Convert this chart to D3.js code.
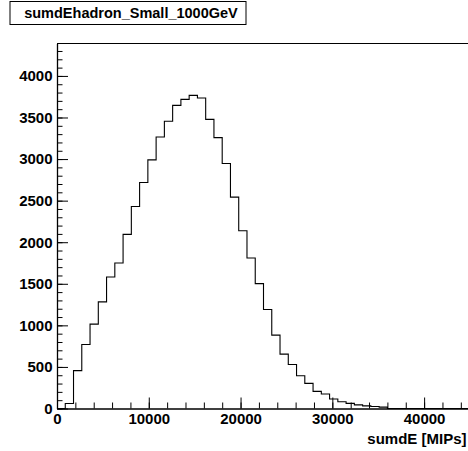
<!DOCTYPE html>
<html>
<head>
<meta charset="utf-8">
<script src="https://cdn.jsdelivr.net/npm/d3@7"></script>
<style>
  body { margin: 0; background: #fff; overflow: hidden; }
  svg { display: block; }
  text { font-family: "Liberation Sans", Arial, Helvetica, sans-serif; font-weight: bold; fill: #000; }
</style>
</head>
<body>
<div id="chart"></div>
<script>
// histogram: 50 bins from 0 to 45000 MIPs
var xMin = 0, xMax = 45000, nBins = 50;
var counts = [
  0, 60, 455, 770, 1015, 1282, 1582, 1750, 2094, 2430,
  2718, 2990, 3266, 3454, 3646, 3718, 3766, 3734, 3478, 3258,
  2946, 2542, 2138, 1810, 1502, 1190, 882, 654, 530, 394,
  302, 206, 174, 114, 82, 62, 44, 32, 24, 16,
  0, 0, 0, 0, 0, 0, 0, 0, 0, 0
];
var xTicks = [0, 10000, 20000, 30000, 40000];
var yTicks = [0, 500, 1000, 1500, 2000, 2500, 3000, 3500, 4000];
var yMax = 4390;
var title = "sumdEhadron_Small_1000GeV";
var xTitle = "sumdE [MIPs]";

var width = 468, height = 451;
// frame edges (the right one runs just off the page, as in the original)
var frameL = 57, frameT = 43.5, frameR = 470, frameB = 408.5;

var svg = d3.select("#chart")
  .append("svg")
    .attr("width", width)
    .attr("height", height);

var x = d3.scaleLinear().domain([xMin, xMax]).range([frameL, frameR]);
var y = d3.scaleLinear().domain([0, yMax]).range([frameB, frameT]);

// frame top line (left and bottom come from the axes)
svg.append("line")
  .attr("x1", frameL).attr("x2", width)
  .attr("y1", frameT).attr("y2", frameT)
  .attr("stroke", "#000").attr("stroke-width", 1);

// histogram outline as a step path
var binW = (xMax - xMin) / nBins;
var pts = [[x(xMin), y(0)]];
counts.forEach(function(c, i) {
  pts.push([x(xMin + i * binW), y(c)]);
  pts.push([x(xMin + (i + 1) * binW), y(c)]);
});
pts.push([x(xMax), y(0)]);
svg.append("path")
  .attr("d", d3.line()(pts))
  .attr("fill", "none")
  .attr("stroke", "#000")
  .attr("stroke-width", 1.1);

// minor ticks
var xMinor = d3.range(0, xMax + 1, 2000);
var yMinor = d3.range(0, yMax, 100);

svg.append("g")
  .attr("transform", "translate(0," + frameB + ")")
  .call(d3.axisBottom(x).tickValues(xMinor).tickSize(-6).tickFormat(""))
  .call(function(g) { g.select(".domain").remove(); });

svg.append("g")
  .attr("transform", "translate(" + frameL + ",0)")
  .call(d3.axisLeft(y).tickValues(yMinor).tickSize(-5.5).tickFormat(""))
  .call(function(g) { g.select(".domain").remove(); });

// major ticks + labels
var xAxis = svg.append("g")
  .attr("transform", "translate(0," + frameB + ")")
  .call(d3.axisBottom(x).tickValues(xTicks).tickSize(-11).tickSizeOuter(0).tickPadding(5).tickFormat(d3.format("d")));
xAxis.selectAll("text").style("font-size", "15px");

var yAxis = svg.append("g")
  .attr("transform", "translate(" + frameL + ",0)")
  .call(d3.axisLeft(y).tickValues(yTicks).tickSize(-11).tickSizeOuter(0).tickPadding(4.5).tickFormat(d3.format("d")));
yAxis.selectAll("text").style("font-size", "15px");

svg.selectAll(".tick line").attr("stroke", "#000");
svg.selectAll(".domain").attr("stroke", "#000").attr("stroke-width", 1.3);

// axis title
svg.append("text")
  .attr("x", 466.5).attr("y", 444)
  .attr("text-anchor", "end")
  .style("font-size", "15px")
  .text(xTitle);

// title box
svg.append("rect")
  .attr("x", 10).attr("y", 1.5)
  .attr("width", 236).attr("height", 23)
  .attr("fill", "#fff").attr("stroke", "#000");
svg.append("text")
  .attr("x", 131).attr("y", 18)
  .attr("text-anchor", "middle")
  .style("font-size", "14.5px")
  .text(title);
</script>
</body>
</html>
